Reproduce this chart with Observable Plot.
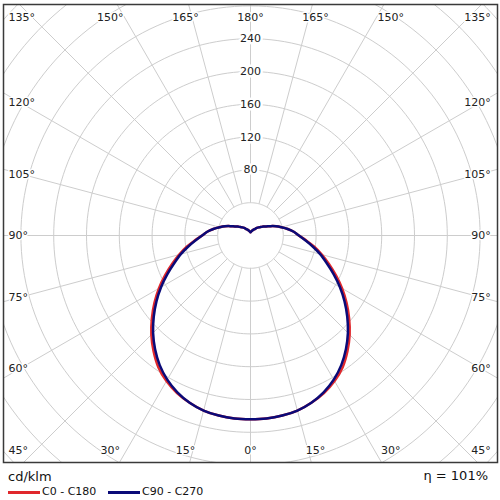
<!DOCTYPE html>
<html><head><meta charset="utf-8">
<script src="https://cdn.jsdelivr.net/npm/d3@7"></script>
<script src="https://cdn.jsdelivr.net/npm/@observablehq/plot@0.6"></script>
<style>
body{margin:0;background:#fff;font-family:"DejaVu Sans",sans-serif;color:#111;}
#wrap{position:relative;width:500px;height:500px;}
.lg{position:absolute;white-space:nowrap;}
.sw{position:absolute;height:3px;}
</style></head><body><div id="wrap"><div id="chart"></div></div>
<script>
// Gamma angles (deg, 0 = straight down) and luminous intensity (cd/klm)
const gammaAngles = [0,5,10,15,20,25,30,35,40,45,50,55,60,65,70,75,80,85,90,95,100,105,110,115,120,125,130,135,140,145,150,155,160,165,170,175,180];
const c0c180 =      [224,224,223,221,217,212,205,196,184,171,157,143,129,115,102,90,79,68,59,53,46,39,33,27,22,19,16,14,12,10,8.5,7.5,6.5,5.5,5,4.5,4];
const c90c270 =     [224,224,223,221,217,211,203,193,181,168,154,140,126,112,99,88,77,67,59,53,46,39,33,27,22,19,16,14,12,10,8.5,7.5,6.5,5.5,5,4.5,4];
const seriesNames = ["C0 - C180", "C90 - C270"];
const seriesColors = ["#e0282c", "#0a0a78"];
const ringValues = [40,80,120,160,200,240,280,320,360,400,440];
const ringLabels = [80,120,160,200,240];
const angleLabels = [0,15,30,45,60,75,90,105,120,135,150,165,180];
const unitLabel = "cd/klm";
const efficiency = "η = 101%";

const rad = d => d * Math.PI / 180;
const px = (r, g, side) => side * r * Math.sin(rad(g));
const py = (r, g) => -r * Math.cos(rad(g));

const curves = [];
[c0c180, c90c270].forEach((vals, si) => {
  const pts = [];
  for (let i = gammaAngles.length - 1; i >= 0; i--) pts.push({s: seriesNames[si], x: px(vals[i], gammaAngles[i], -1), y: py(vals[i], gammaAngles[i])});
  for (let i = 1; i < gammaAngles.length; i++) pts.push({s: seriesNames[si], x: px(vals[i], gammaAngles[i], 1), y: py(vals[i], gammaAngles[i])});
  curves.push(pts);
});

const ringPts = [];
for (const r of ringValues) for (let a = 0; a <= 360; a += 2) ringPts.push({r, x: r * Math.sin(rad(a)), y: -r * Math.cos(rad(a))});
const spokes = d3.range(0, 360, 15).map(a => ({x1: 40 * Math.sin(rad(a)), y1: -40 * Math.cos(rad(a)), x2: 600 * Math.sin(rad(a)), y2: -600 * Math.cos(rad(a))}));

// angle labels placed where each ray meets a label rectangle
const hw = 280, hh = 296, topY = 266, botY = -262, leftX = -295, rightX = 293;
const angLab = [];
for (const g of angleLabels) for (const side of (g === 0 || g === 180 ? [1] : [-1, 1])) {
  const dx = side * Math.sin(rad(g)), dy = -Math.cos(rad(g));
  const sx = Math.abs(dx) < 1e-9 ? Infinity : hw / Math.abs(dx);
  const sy = Math.abs(dy) < 1e-9 ? Infinity : hh / Math.abs(dy);
  if (sx <= sy) {
    angLab.push({t: g + "°", x: side < 0 ? leftX : rightX, y: Math.max(botY, Math.min(topY, dy * sx)), a: side < 0 ? "start" : "end"});
  } else {
    angLab.push({t: g + "°", x: dx * sy, y: dy > 0 ? topY : botY, a: "middle"});
  }
}

const k = 0.82; // px per unit
const W = 500, H = 466, mL = 3, mR = 3, mT = 4, mB = 4;
const cx = 250 - mL, cy = 235 - mT;
const labelStyle = {x: "x", y: "y", text: "t", fontSize: 11, fill: "#222", stroke: "white", strokeWidth: 3, paintOrder: "stroke"};
const plot = Plot.plot({
  width: W, height: H,
  marginLeft: mL, marginRight: mR, marginTop: mT, marginBottom: mB,
  x: {domain: [-cx / k, (W - mL - mR - cx) / k], axis: null},
  y: {domain: [-(H - mT - mB - cy) / k, cy / k], axis: null},
  style: {fontFamily: "DejaVu Sans, sans-serif", background: "white"},
  marks: [
    Plot.line(ringPts, {x: "x", y: "y", z: "r", stroke: "#cdcdcd", strokeWidth: 1, clip: true}),
    Plot.link(spokes, {x1: "x1", y1: "y1", x2: "x2", y2: "y2", stroke: "#cdcdcd", strokeWidth: 1, clip: true}),
    Plot.text(ringLabels, {x: () => 0, y: d => d, text: d => String(d), fontSize: 11, fill: "#222", stroke: "white", strokeWidth: 5, paintOrder: "stroke"}),
    Plot.text(angLab.filter(d => d.a === "start"), {...labelStyle, textAnchor: "start"}),
    Plot.text(angLab.filter(d => d.a === "end"), {...labelStyle, textAnchor: "end"}),
    Plot.text(angLab.filter(d => d.a === "middle"), {...labelStyle, textAnchor: "middle"}),
    Plot.line(curves[0], {x: "x", y: "y", stroke: seriesColors[0], strokeWidth: 2.5, curve: "catmull-rom"}),
    Plot.line(curves[1], {x: "x", y: "y", stroke: seriesColors[1], strokeWidth: 2.5, curve: "catmull-rom"}),
    Plot.frame({stroke: "#3a3a3a", strokeWidth: 1.5})
  ]
});
document.getElementById("chart").appendChild(plot);

const wrap = document.getElementById("wrap");
function add(txt, css) { const d = document.createElement("div"); d.className = "lg"; d.textContent = txt; Object.assign(d.style, css); wrap.appendChild(d); return d; }
add(unitLabel, {left: "8px", top: "469px", fontSize: "13px"});
add(efficiency, {right: "12px", top: "468px", fontSize: "13px"});
const legX = [8, 108];
seriesNames.forEach((n, i) => {
  const s = document.createElement("div"); s.className = "sw";
  Object.assign(s.style, {left: legX[i] + "px", top: "491px", width: "32px", background: seriesColors[i]});
  wrap.appendChild(s);
  add(n, {left: (legX[i] + 34) + "px", top: "485px", fontSize: "11px"});
});
</script></body></html>
